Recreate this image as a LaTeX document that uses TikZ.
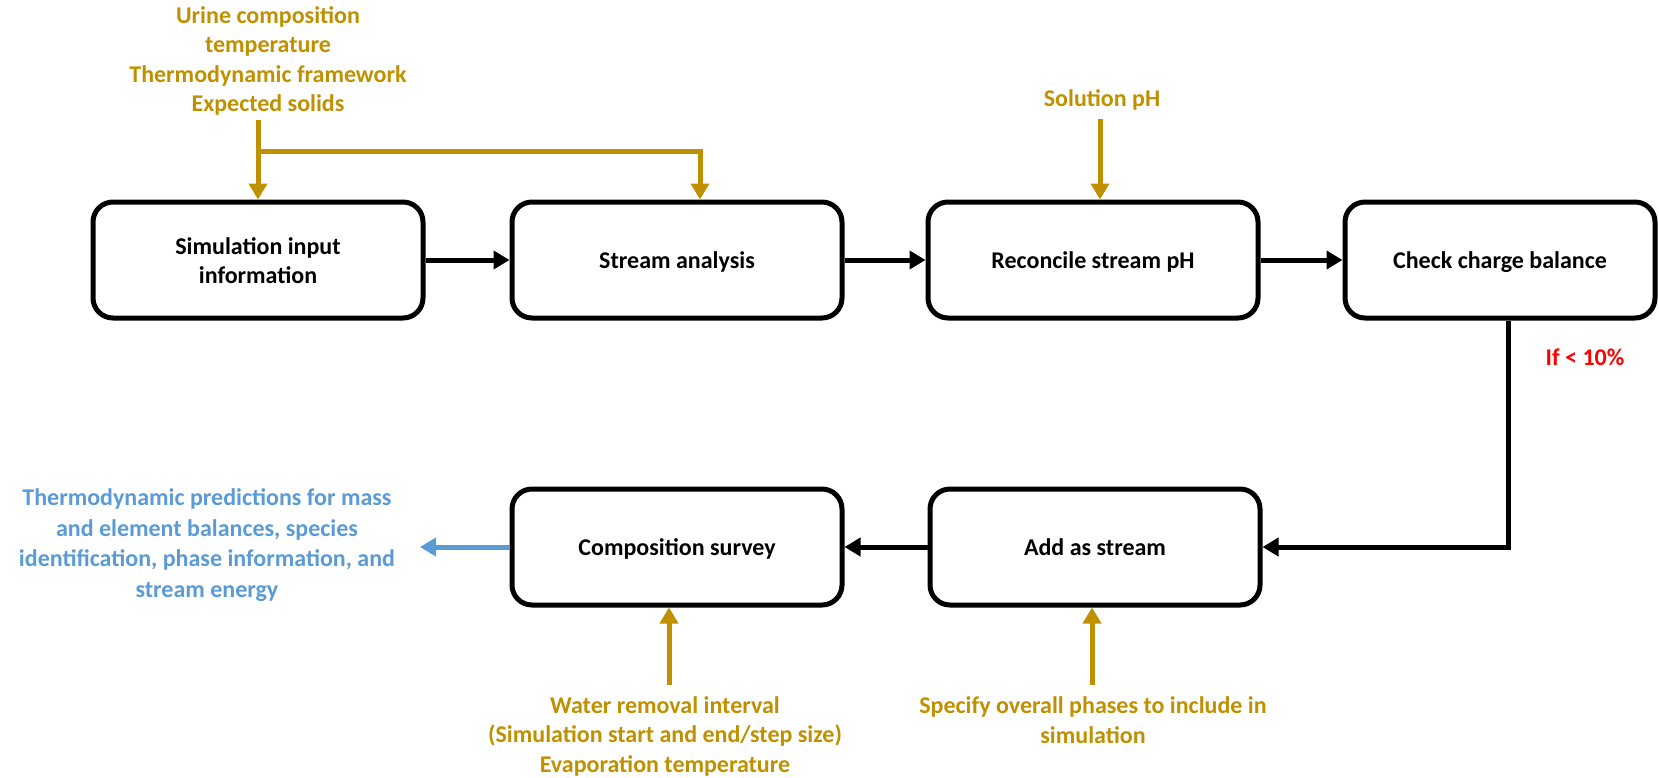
\documentclass[tikz,border=0pt]{standalone}
\usepackage{fontspec}
\setmainfont{Carlito}
\usetikzlibrary{arrows.meta,calc}
\definecolor{gold}{HTML}{BF9000}
\definecolor{bluet}{HTML}{5B9BD5}
\begin{document}
\begin{tikzpicture}[x=1pt,y=-1pt,
  box/.style={draw, line width=5pt, rounded corners=20pt, minimum width=330pt,
    minimum height=116pt, align=center, inner sep=0pt,
    font=\bfseries\fontsize{24}{29}\selectfont},
  onel/.style={text height=21pt, text depth=4pt},
  lab/.style={align=center, inner sep=0pt, font=\bfseries\fontsize{24}{29.5}\selectfont},
  blk/.style={line width=5pt, -{Triangle[width=18pt,length=16pt]}},
  gld/.style={draw=gold, line width=5pt, -{Triangle[width=18pt,length=16pt]}},
  blu/.style={draw=bluet, line width=5pt, -{Triangle[width=18pt,length=16pt]}},
]
\useasboundingbox (0,0) rectangle (1659,777);
\node[box] (b1) at (258,260) {\rule{0pt}{19pt}Simulation input\\information};
\node[box, onel] (b2) at (677,260) {Stream analysis};
\node[box, onel] (b3) at (1093,260) {Reconcile stream pH};
\node[box, onel, minimum width=310pt] (b4) at (1500,260) {Check charge balance};
\node[box, onel] (comp) at (677,547) {Composition survey};
\node[box, onel] (add) at (1095,547) {Add as stream};

\draw[blk] (b1.east) -- (b2.west);
\draw[blk] (b2.east) -- (b3.west);
\draw[blk] (b3.east) -- (b4.west);
\draw[blk] ([xshift=8pt]b4.south) |- (add.east);
\draw[blk] (add.west) -- (comp.east);

\node[lab, text=gold] (in1) at (268,61) {Urine composition\\temperature\\Thermodynamic framework\\Expected solids};
\coordinate (s1) at (258,120);
\coordinate (j1) at (258,151);
\draw[gld] (s1) -- (b1.north);
\draw[gld] (j1) -| ([xshift=23pt]b2.north);

\node[lab, text=gold] (ph) at (1102,100) {Solution pH};
\coordinate (s3) at (1100,119);
\draw[gld] (s3) -- (s3 |- b3.north);

\node[lab, text=gold] (wr) at (665,736) {Water removal interval\\(Simulation start and end/step size)\\Evaporation temperature};
\coordinate (s5) at (669,685);
\draw[gld] (s5) -- (s5 |- comp.south);

\node[lab, text=gold] (sp) at (1093,720) {Specify overall phases to include in\\simulation};
\coordinate (s6) at (1092,685);
\draw[gld] (s6) -- (s6 |- add.south);

\node[lab, text=bluet, font=\bfseries\fontsize{24}{30.7}\selectfont] (out) at (207,545) {Thermodynamic predictions for mass\\and element balances, species\\identification, phase information, and\\stream energy};
\coordinate (o1) at (420,547);
\draw[blu] (comp.west) -- (o1);

\node[lab, text=red] (cond) at (1585,357) {If < 10\%};
\end{tikzpicture}
\end{document}
